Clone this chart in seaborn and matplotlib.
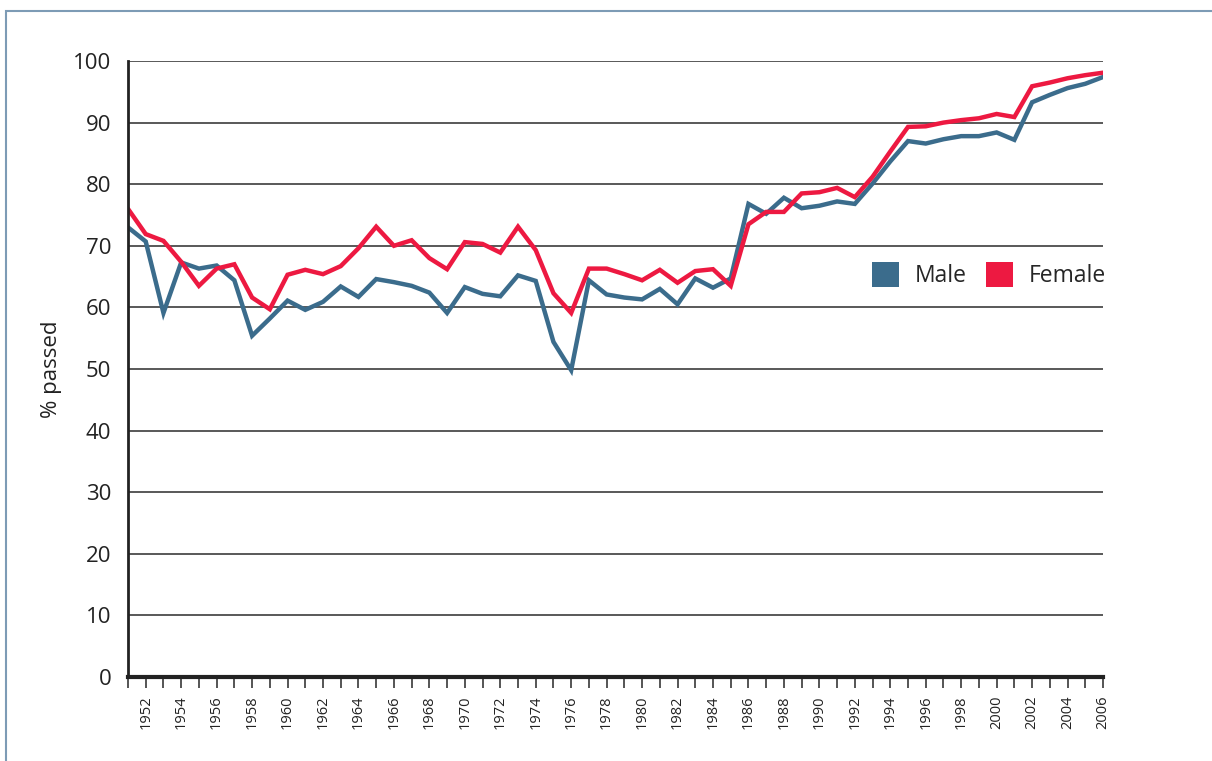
import numpy as np
import pandas as pd
import seaborn as sns
import matplotlib.pyplot as plt
from matplotlib.patches import Rectangle
from matplotlib.ticker import MultipleLocator

# data, one value per year 1951-2006
years = list(range(1951, 2007))
male = [73.0, 70.7, 59.1, 67.3, 66.3, 66.8, 64.4, 55.4, 58.2, 61.1,
        59.6, 60.9, 63.4, 61.7, 64.6, 64.1, 63.5, 62.4, 59.1, 63.3,
        62.2, 61.8, 65.2, 64.3, 54.4, 49.8, 64.4, 62.1, 61.6, 61.3,
        63.0, 60.5, 64.7, 63.2, 64.7, 76.8, 75.2, 77.8, 76.1, 76.5,
        77.2, 76.8, 80.1, 83.7, 87.0, 86.6, 87.3, 87.8, 87.8, 88.4,
        87.2, 93.3, 94.5, 95.6, 96.3, 97.4]
female = [76.0, 71.9, 70.8, 67.4, 63.5, 66.3, 67.0, 61.6, 59.7, 65.3,
          66.1, 65.4, 66.7, 69.6, 73.1, 70.0, 70.9, 68.0, 66.2, 70.6,
          70.3, 68.9, 73.1, 69.3, 62.3, 59.1, 66.3, 66.3, 65.4, 64.4,
          66.1, 64.0, 65.9, 66.2, 63.5, 73.5, 75.5, 75.5, 78.5, 78.7,
          79.4, 77.9, 81.2, 85.3, 89.3, 89.4, 90.0, 90.4, 90.7, 91.4,
          90.9, 95.9, 96.5, 97.2, 97.7, 98.1]
groups = ["Male", "Female"]
colors = ["#3b6c8c", "#ed1941"]

df = pd.DataFrame({"year": years * 2,
                   "passed": male + female,
                   "sex": ["Male"] * len(years) + ["Female"] * len(years)})

sns.set_style("white")
plt.rcParams['font.family'] = ['Open Sans', 'DejaVu Sans']

fig = plt.figure(figsize=(12.12, 7.61), dpi=100)
ax = fig.add_axes([128/1212, 1 - 677/761, (1103-128)/1212, (677-61)/761])

sns.lineplot(data=df, x="year", y="passed", hue="sex", hue_order=groups,
             palette=colors, linewidth=3.2, ax=ax, legend=False,
             solid_joinstyle="miter")

ax.set_xlim(1951, 2006)
ax.set_ylim(0, 100)
ax.set_yticks(range(0, 101, 10))
ax.yaxis.grid(True, color="#3c3c3c", linewidth=1.2)
ax.set_axisbelow(True)
ax.set_xticks(range(1952, 2007, 2))
ax.xaxis.set_minor_locator(MultipleLocator(1))
ax.set_xticklabels([str(y) for y in range(1952, 2007, 2)], rotation=90,
                   fontsize=10.5, color="#222222")
ax.tick_params(axis="x", which="both", direction="out", length=8, width=1.4,
               color="#555555", bottom=True, pad=5)
ax.tick_params(axis="y", length=0, pad=12, labelsize=16, labelcolor="#222222")
ax.set_xlabel("")
ax.set_ylabel("% passed", fontsize=16, color="#222222", labelpad=8)

for s in ["top", "right"]:
    ax.spines[s].set_visible(False)
ax.spines["left"].set_linewidth(2)
ax.spines["left"].set_color("#222222")
ax.spines["bottom"].set_linewidth(3)
ax.spines["bottom"].set_color("#222222")

handles = [Rectangle((0, 0), 1, 1, facecolor=c, edgecolor="none") for c in colors]
ax.legend(handles, groups, loc="center right", bbox_to_anchor=(1.003, 0.653),
          ncol=2, frameon=False, fontsize=16.5, handlelength=1.15, handleheight=1.3,
          handletextpad=0.7, columnspacing=0.85, borderaxespad=0, borderpad=0)

fig.add_artist(Rectangle((6/1212, -0.1), 1.2, 0.1 + 1 - 11/761,
                         transform=fig.transFigure, fill=False,
                         edgecolor="#7d9bb5", linewidth=1.5))

plt.savefig("out.png", dpi=100)
